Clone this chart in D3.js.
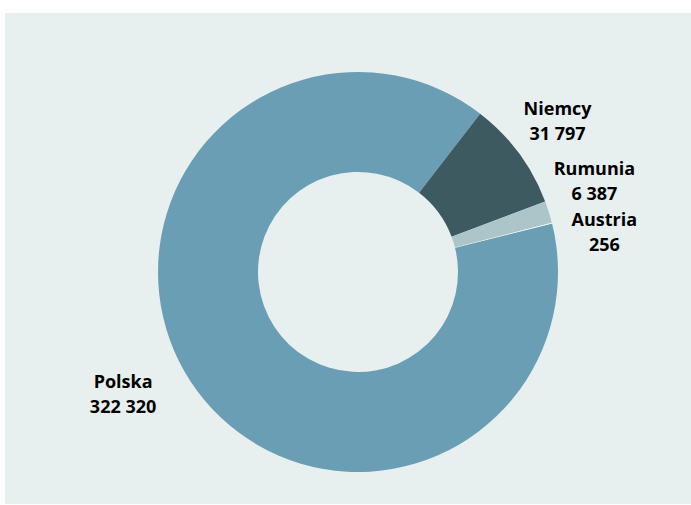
<!DOCTYPE html>
<html>
<head>
<meta charset="utf-8">
<script src="https://cdn.jsdelivr.net/npm/d3@7"></script>
<style>
  html, body { margin: 0; padding: 0; background: #ffffff; }
  svg { display: block; }
  text { font-family: "Open Sans", "Noto Sans", sans-serif; font-weight: 700; fill: #000000; }
</style>
</head>
<body>
<svg id="chart" width="691" height="505"></svg>
<script>
// Categories and values (order of slices, clockwise)
const categories = ["Polska", "Niemcy", "Rumunia", "Austria"];
const values = [322320, 31797, 6387, 256];
const valueLabels = ["322 320", "31 797", "6 387", "256"];

// Slice colours
const colors = ["#6a9eb5", "#3e5a61", "#abc5c9", "#f4f8f8"];

// Label nudges (px) from the default position on the slice's mid-angle ray
const labelNudge = {
  "Polska":  [-24, -16],
  "Niemcy":  [-3, -1],
  "Rumunia": [-4, -15],
  "Austria": [2, 22]
};

const W = 691, H = 505;
const cx = 358, cy = 272;
const outerR = 200, innerR = 100, labelR = 252;
const firstSliceAngle = 76; // degrees, clockwise from 12 o'clock

const svg = d3.select("#chart");

// Plot panel
svg.append("rect")
  .attr("x", 5).attr("y", 13)
  .attr("width", W - 5).attr("height", H - 14)
  .attr("fill", "#e7f0ef");

const data = categories.map((c, i) => ({ name: c, value: values[i], label: valueLabels[i], color: colors[i] }));

const start = firstSliceAngle * Math.PI / 180;
const pie = d3.pie()
  .sort(null)
  .value(d => d.value)
  .startAngle(start)
  .endAngle(start + 2 * Math.PI);

const arc = d3.arc().innerRadius(innerR).outerRadius(outerR);

const g = svg.append("g").attr("transform", `translate(${cx},${cy})`);
const arcs = pie(data);

g.selectAll("path.slice")
  .data(arcs)
  .join("path")
  .attr("class", "slice")
  .attr("d", arc)
  .attr("fill", d => d.data.color);

// Labels: category name on the first line, value on the second
const labels = g.selectAll("text.lbl")
  .data(arcs)
  .join("text")
  .attr("class", "lbl")
  .attr("text-anchor", "middle")
  .style("font-size", "18px")
  .attr("transform", d => {
    const a = (d.startAngle + d.endAngle) / 2;
    const n = labelNudge[d.data.name] || [0, 0];
    const x = labelR * Math.sin(a) + n[0];
    const y = -labelR * Math.cos(a) + n[1];
    return `translate(${x},${y})`;
  });

labels.append("tspan").attr("x", 0).attr("y", -6).text(d => d.data.name);
labels.append("tspan").attr("x", 0).attr("y", 19).text(d => d.data.label);
</script>
</body>
</html>
